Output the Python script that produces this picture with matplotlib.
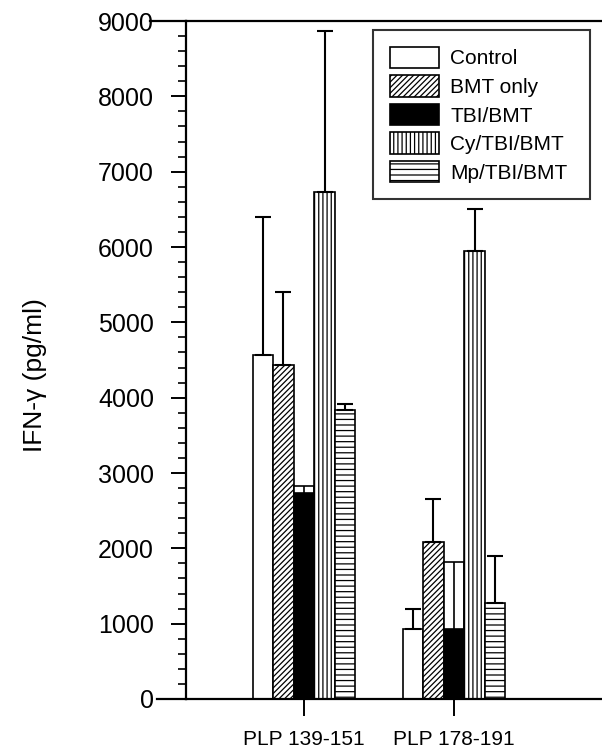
import matplotlib
matplotlib.use("Agg")
import matplotlib.pyplot as plt
import numpy as np
from matplotlib.ticker import MultipleLocator

plt.rcParams['font.family'] = ['Liberation Sans', 'DejaVu Sans']
plt.rcParams['hatch.linewidth'] = 0.9

# ---- data ----
groups = ["PLP 139-151", "PLP 178-191"]
series = ["Control", "BMT only", "TBI/BMT", "Cy/TBI/BMT", "Mp/TBI/BMT"]
control = [4570, 930]
bmt_only = [4430, 2080]
tbi_bmt = [2730, 930]
cy_tbi_bmt = [6730, 5950]
mp_tbi_bmt = [3830, 1270]
control_err = [1830, 270]
bmt_only_err = [970, 570]
tbi_bmt_err = [100, 890]
cy_tbi_bmt_err = [2140, 550]
mp_tbi_bmt_err = [90, 630]
y_ticks = [0, 1000, 2000, 3000, 4000, 5000, 6000, 7000, 8000, 9000]

values = [control, bmt_only, tbi_bmt, cy_tbi_bmt, mp_tbi_bmt]
errors = [control_err, bmt_only_err, tbi_bmt_err, cy_tbi_bmt_err, mp_tbi_bmt_err]
styles = [
    dict(facecolor="white", hatch=None),
    dict(facecolor="white", hatch="//////"),
    dict(facecolor="black", hatch=None),
    dict(facecolor="white", hatch="||||"),
    dict(facecolor="white", hatch="---"),
]

W, H = 602, 755
fig = plt.figure(figsize=(W / 100, H / 100), dpi=100)
ax = fig.add_axes([186 / W, 1 - 699 / H, (W - 186) / W, (699 - 21) / H])

x = np.arange(len(groups))
bw = 0.137
offsets = (np.arange(len(series)) - 2) * bw

for i, (name, vals, errs, st) in enumerate(zip(series, values, errors, styles)):
    xi = x + offsets[i]
    ax.bar(xi, vals, width=bw, facecolor=st["facecolor"], edgecolor="black",
           hatch=st["hatch"], linewidth=1.2, label=name, zorder=2)
    if name == "TBI/BMT":
        ax.bar(xi, errs, width=bw, bottom=vals, facecolor="white",
               edgecolor="black", linewidth=1.2, zorder=2)
        ax.errorbar(xi, np.array(vals) + np.array(errs) / 2,
                    yerr=np.array(errs) / 2, fmt="none", ecolor="black",
                    elinewidth=1.2, capsize=0, zorder=3)
    else:
        ax.errorbar(xi, vals, yerr=[np.zeros(len(errs)), errs], fmt="none",
                    ecolor="black", elinewidth=1.5, capsize=6, capthick=1.5,
                    zorder=3)

ax.set_xlim((186 - 304) / 150, (W - 304) / 150)
ax.set_ylim(0, 9000)
ax.set_yticks(y_ticks)
ax.yaxis.set_minor_locator(MultipleLocator(200))
ax.set_xticks(x)
ax.set_xticklabels(groups, fontsize=15)
ax.tick_params(axis="y", which="major", direction="out", length=11, width=1.4,
               labelsize=18, pad=12)
ax.tick_params(axis="y", which="minor", direction="out", length=6, width=1.2)
ax.tick_params(axis="x", which="major", direction="out", length=12, width=1.4,
               pad=10)

ax.spines["right"].set_visible(False)
for s in ["left", "top", "bottom"]:
    ax.spines[s].set_linewidth(1.6)

# extended frame lines at top and bottom (to the labels)
ax.plot([-0.0865, 0], [1, 1], color="black", lw=1.6, transform=ax.transAxes,
        clip_on=False)
ax.plot([-0.07, 0], [0, 0], color="black", lw=1.6, transform=ax.transAxes,
        clip_on=False)

ax.set_ylabel("IFN-γ (pg/ml)", fontsize=19)
ax.yaxis.set_label_coords(-0.335, 0.478)

leg = ax.legend(loc="upper left",
                bbox_to_anchor=(373 / W, 1 - 198 / H, 217 / W, 168 / H),
                bbox_transform=fig.transFigure, mode="expand", fontsize=15,
                frameon=True, fancybox=False, borderaxespad=0,
                handlelength=2.35, handleheight=1.2, labelspacing=0.33,
                handletextpad=0.55, borderpad=0.8)
leg.get_frame().set_edgecolor("black")
leg.get_frame().set_linewidth(1.5)

fig.savefig("out.png", dpi=100)
